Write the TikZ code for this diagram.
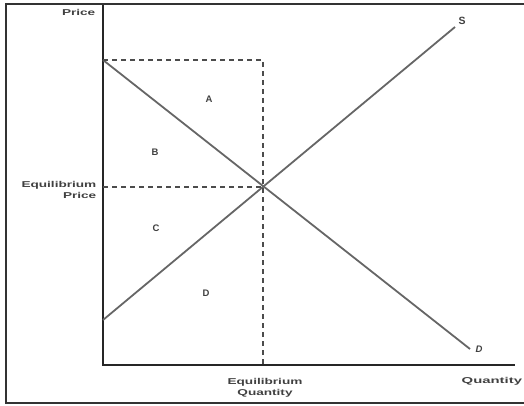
\documentclass[tikz,border=0pt]{standalone}
\usepackage{fontspec}
\setmainfont{Liberation Sans}
\newcommand{\wide}[1]{\scalebox{1.6}[1]{#1}}
\begin{document}
\begin{tikzpicture}[x=1pt,y=-1pt,
  lab/.style={font=\fontsize{8.5}{11}\selectfont\bfseries, text=black!75, inner sep=0.5pt},
  let/.style={font=\fontsize{9.5}{10}\selectfont\bfseries, text=black!75, inner sep=0.5pt},
  curve/.style={draw=black!60, line width=1.8pt},
  guide/.style={draw=black!70, line width=1.3pt, dash pattern=on 5pt off 4pt},
  frame/.style={draw=black!80, line width=2pt}]
\useasboundingbox (0,0) rectangle (524,406);
% frame
\coordinate (f1) at (524,4);
\coordinate (f2) at (6,4);
\coordinate (f3) at (6,403);
\coordinate (f4) at (524,403);
\draw[frame] (f1) -- (f2) -- (f3) -- (f4);
% axes
\coordinate (o) at (103,365);
\coordinate (ytop) at (103,5);
\coordinate (xend) at (515,365);
\draw[draw=black!85, line width=2.4pt] (ytop) -- (o) -- (xend);
% curves
\coordinate (d0) at (103,60);
\coordinate (d1) at (470,349);
\coordinate (s0) at (103,320);
\coordinate (s1) at (455,27);
\coordinate (eq) at (263,187);
\coordinate (tp) at (263,60);
\coordinate (bp) at (263,365);
\coordinate (ep) at (103,187);
\draw[curve] (d0) -- (d1);
\draw[curve] (s0) -- (s1);
\draw[guide] (d0) -- (tp) -- (bp);
\draw[guide] (ep) -- (eq);
% labels
\node[lab, anchor=east] (price) at (96,12) {\wide{Price}};
\node[lab, anchor=east, align=right] (eqp) at (97,190) {\wide{Equilibrium}\\\wide{Price}};
\node[lab, align=center] (eqq) at (265,388) {\wide{Equilibrium}\\\wide{Quantity}};
\node[lab, anchor=west] (qty) at (461,381) {\scalebox{1.75}[1]{Quantity}};
\node[lab, font=\fontsize{10.5}{10.5}\selectfont\bfseries] (S) at (462,21) {S};
\node[let] (Dl) at (479,349) {\itshape D};
\node[let] (A) at (209,99) {A};
\node[let] (B) at (155,152) {B};
\node[let] (C) at (156,228) {C};
\node[let] (Dr) at (206,293) {D};
\end{tikzpicture}
\end{document}
